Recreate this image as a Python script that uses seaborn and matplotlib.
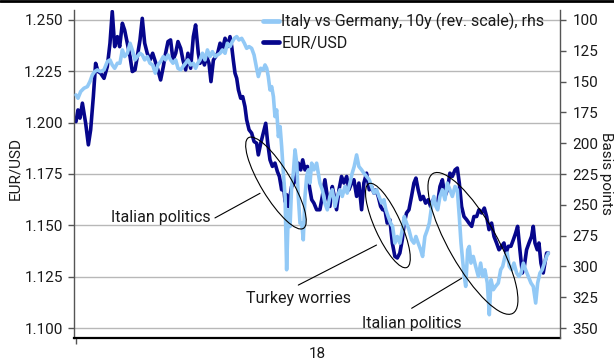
import numpy as np
import pandas as pd
import matplotlib
matplotlib.use("Agg")
import matplotlib.pyplot as plt
import matplotlib.dates as mdates
from matplotlib.patches import Ellipse
from matplotlib.lines import Line2D
from matplotlib.transforms import ScaledTranslation, blended_transform_factory
import seaborn as sns

# ---------------- data (days since 1 Jan 2018) ----------------
eur_day = [0, 1.4, 2.8, 4.5, 6.8, 8.7, 10.3, 12.2, 13.8, 15.5, 17.3, 19.7, 22.0, 23.9, 25.5, 27.2,
           29.1, 30.7, 32.6, 34.2, 36.1, 38.0, 39.6, 41.5, 43.1, 45.0, 46.6, 48.3, 50.1, 52.0, 53.9,
           55.8, 57.6, 59.5, 61.4, 63.0, 64.7, 66.5, 68.2, 70.1, 71.7, 73.6, 75.2, 77.1, 78.7, 80.6,
           82.5, 84.1,
           86.0, 87.2, 88.9, 90.3, 91.9, 93.5, 94.9, 96.6, 98.2, 99.6, 101.3, 102.9, 104.8, 106.4,
           108.3, 109.5, 110.6, 111.8, 113.0, 114.2, 115.8, 117.2, 118.8, 120.0, 121.7, 123.5, 125.2,
           127.0, 128.2, 129.9, 131.7, 133.4, 134.8, 136.4, 138.1, 139.9, 141.6, 143.0, 144.6, 145.8,
           147.0, 148.1, 149.3, 150.5, 151.6, 153.3, 154.7, 156.3, 158.0, 159.4, 161.0, 162.7, 164.1,
           165.7, 167.3, 169.2,
           171.5, 173.2, 175.0, 176.7, 178.5, 180.2, 181.6, 183.2, 184.9, 186.7, 188.4, 190.3, 191.9,
           193.8, 195.4, 197.3, 198.9, 200.8, 202.4, 204.3, 206.2, 207.8, 209.5, 210.9, 212.5, 214.2,
           215.6, 217.2, 218.8, 220.7, 222.4, 224.2, 225.9, 227.7, 229.4, 230.8, 232.4, 234.1, 235.9,
           237.6, 239.0, 240.6, 242.3, 244.1, 245.8, 247.7, 249.3, 251.2, 252.8,
           254.3, 255.9, 257.6, 259.4, 261.1, 262.9, 264.6, 266.5, 268.1, 269.5, 271.1, 272.8, 274.7,
           276.3, 278.2, 279.8, 281.7, 283.3, 285.2, 287.1, 288.7, 290.4, 292.2, 293.9, 295.7, 297.4,
           299.3, 300.9, 302.3, 304.0, 305.8, 307.5, 309.1, 310.5, 312.1, 313.8, 315.2, 316.8, 318.5,
           320.3, 321.5, 322.7, 324.3, 325.5, 326.9, 328.5, 329.7, 330.9, 332.1]
eur_val = [1.2005, 1.2062, 1.2022, 1.2095, 1.1997, 1.1892, 1.1965, 1.2127, 1.2289, 1.2249, 1.2241,
           1.2216, 1.2273, 1.2387, 1.2541, 1.2370, 1.2419, 1.2370, 1.2484, 1.2451, 1.2387, 1.2322,
           1.2249, 1.2257, 1.2322, 1.2403, 1.2508, 1.2387, 1.2338, 1.2305, 1.2338, 1.2297, 1.2257,
           1.2208, 1.2273, 1.2338, 1.2395, 1.2403, 1.2305, 1.2338, 1.2395, 1.2362, 1.2305, 1.2257,
           1.2338, 1.2265, 1.2419, 1.2476,
           1.2338, 1.2289, 1.2314, 1.2281, 1.2322, 1.2289, 1.2200, 1.2305, 1.2322, 1.2338, 1.2387,
           1.2354, 1.2411, 1.2370, 1.2419, 1.2370, 1.2305, 1.2241, 1.2216, 1.2160, 1.2119, 1.2127,
           1.2078, 1.2014, 1.1965, 1.1949, 1.1908, 1.1900, 1.1843, 1.1900, 1.1949, 1.1997, 1.1900,
           1.1819, 1.1787, 1.1803, 1.1762, 1.1738, 1.1673, 1.1706, 1.1616, 1.1649, 1.1592, 1.1641,
           1.1689, 1.1706, 1.1738, 1.1803, 1.1770, 1.1819, 1.1770, 1.1787, 1.1689, 1.1625, 1.1608,
           1.1576,
           1.1576, 1.1641, 1.1722, 1.1641, 1.1592, 1.1689, 1.1641, 1.1576, 1.1673, 1.1738, 1.1706,
           1.1738, 1.1673, 1.1706, 1.1722, 1.1641, 1.1706, 1.1576, 1.1706, 1.1754, 1.1673, 1.1689,
           1.1657, 1.1673, 1.1641, 1.1592, 1.1576, 1.1576, 1.1511, 1.1527, 1.1414, 1.1349, 1.1341,
           1.1365, 1.1430, 1.1511, 1.1560, 1.1576, 1.1641, 1.1706, 1.1730, 1.1673, 1.1625, 1.1641,
           1.1608, 1.1625, 1.1592, 1.1625, 1.1608,
           1.1608, 1.1689, 1.1722, 1.1641, 1.1673, 1.1754, 1.1738, 1.1770, 1.1779, 1.1706, 1.1592,
           1.1543, 1.1527, 1.1511, 1.1495, 1.1543, 1.1543, 1.1576, 1.1560, 1.1584, 1.1543, 1.1479,
           1.1511, 1.1446, 1.1414, 1.1381, 1.1398, 1.1414, 1.1365, 1.1398, 1.1398, 1.1430, 1.1462,
           1.1495, 1.1381, 1.1268, 1.1300, 1.1381, 1.1414, 1.1446, 1.1495, 1.1414, 1.1381, 1.1414,
           1.1316, 1.1268, 1.1316, 1.1365, 1.1365]

spread_day = [0, 1.4, 3.3, 5.6, 8.0, 9.8, 11.5, 13.1, 15.0, 17.3, 19.7, 22.0, 23.9, 25.5, 27.2, 29.1,
              30.9, 32.6, 34.2, 36.1, 38.0, 39.6, 41.5, 43.1, 45.0, 46.6, 48.3, 50.1, 52.0, 53.9,
              55.8, 57.6, 59.5, 61.4, 63.0, 64.7, 66.5, 68.2, 70.1, 71.7, 73.6, 75.2, 77.1, 78.7,
              80.6, 82.5, 84.1,
              85.6, 87.2, 88.9, 90.7, 92.4, 94.2, 95.9, 97.8, 99.4, 101.3, 102.9, 104.8, 106.4, 108.3,
              109.9, 111.3, 113.0, 114.6, 116.5, 118.4, 120.0, 121.7, 123.5, 125.2, 127.0, 128.2,
              129.9, 131.7, 132.9, 134.1, 135.2, 136.4, 137.6, 138.8, 139.9, 141.1, 142.3, 143.5,
              144.6, 145.8, 147.0, 148.1, 149.3, 150.5, 151.6, 152.8, 154.0, 155.2, 156.3, 157.5,
              158.7, 159.8, 161.0, 162.2, 163.4, 164.5, 165.7, 167.3, 169.2,
              171.5, 173.2, 175.0, 176.7, 178.5, 180.2, 182.1, 183.7, 185.6, 187.2, 189.1, 190.7,
              192.6, 194.2, 195.6, 197.3, 198.9, 200.8, 202.4, 204.3, 206.2, 207.8, 209.5, 211.3,
              213.0, 214.9, 216.5, 217.9, 219.5, 221.2, 222.6, 224.2, 225.9, 227.7, 229.4, 230.8,
              232.4, 234.1, 235.9, 237.6, 239.0, 240.6, 242.3, 243.7, 245.3, 247.0, 248.4, 250.0,
              251.6, 253.1,
              254.3, 255.9, 257.6, 259.4, 261.1, 262.9, 264.6, 266.5, 268.1, 269.5, 270.7, 271.8,
              273.0, 274.0, 275.4, 276.5, 277.7, 279.3, 281.0, 282.9, 284.5, 285.9, 287.5, 289.2,
              290.6, 291.8, 293.4, 295.0, 296.9, 298.6, 300.0, 301.6, 303.2, 304.6, 306.3, 307.9,
              309.8, 311.4, 312.9, 314.5, 316.1, 318.0, 319.9, 321.5, 323.2, 324.6, 326.2, 327.8,
              329.3, 330.9, 332.1]
spread_val = [160.8, 163.5, 158.1, 155.4, 154.1, 150.0, 144.6, 141.9, 140.5, 141.9, 140.5, 133.8,
              132.4, 136.5, 139.2, 135.1, 135.1, 124.3, 129.7, 127.0, 118.9, 124.3, 132.4, 129.7,
              127.0, 128.4, 132.4, 129.7, 135.1, 136.5, 143.2, 136.5, 133.8, 129.7, 132.4, 128.4,
              132.4, 135.1, 132.4, 139.2, 140.5, 137.8, 135.1, 132.4, 136.5, 135.1, 139.2,
              135.1, 132.4, 127.0, 132.4, 124.3, 129.7, 125.7, 129.7, 128.4, 127.0, 124.3, 127.0,
              118.9, 121.6, 117.6, 114.9, 113.5, 116.2, 114.9, 118.9, 123.0, 121.6, 123.0, 128.4,
              139.2, 145.9, 139.2, 140.5, 136.5, 139.2, 145.9, 156.8, 154.1, 162.2, 178.4, 173.0,
              194.6, 186.5, 202.7, 224.3, 243.2, 302.7, 254.1, 267.6, 235.1, 224.3, 205.4, 216.2,
              243.2, 264.9, 264.9, 278.4, 243.2, 227.0, 221.6, 232.4, 216.2, 221.6, 216.2,
              232.4, 237.8, 248.6, 254.1, 243.2, 237.8, 251.4, 243.2, 237.8, 243.2, 235.1, 240.5,
              232.4, 224.3, 218.9, 209.5, 218.9, 221.6, 224.3, 227.0, 229.7, 235.1, 240.5, 237.8,
              243.2, 248.6, 245.9, 254.1, 259.5, 264.9, 267.6, 281.1, 275.7, 281.1, 270.3, 259.5,
              264.9, 270.3, 278.4, 281.1, 275.7, 281.1, 286.5, 291.9, 275.7, 270.3, 264.9, 251.4,
              243.2, 251.4,
              254.1, 243.2, 237.8, 245.9, 232.4, 237.8, 243.2, 235.1, 237.8, 259.5, 281.1, 294.6,
              308.1, 316.2, 286.5, 283.8, 297.3, 291.9, 300.0, 308.1, 297.3, 308.1, 302.7, 313.5,
              339.2, 310.8, 318.9, 316.2, 313.5, 302.7, 300.0, 291.9, 289.2, 300.0, 302.7, 297.3,
              305.4, 308.1, 305.4, 297.3, 302.7, 308.1, 313.5, 316.2, 329.7, 313.5, 305.4, 302.7,
              297.3, 291.9, 289.2]

eur_ticks = [1.100, 1.125, 1.150, 1.175, 1.200, 1.225, 1.250]
bp_ticks = [100, 125, 150, 175, 200, 225, 250, 275, 300, 325, 350]
year_label = "18"
legend_labels = ["Italy vs Germany, 10y (rev. scale), rhs", "EUR/USD"]
notes = ["Italian politics", "Turkey worries", "Italian politics"]

# ---------------- style ----------------
sns.set_style("ticks")
plt.rcParams["font.family"] = ["Roboto", "DejaVu Sans"]
LIGHT = "#92c9f6"
DARK = "#06068c"
TXT = "#1a1a1a"
FS = 11
FS2 = 11.5

start = pd.Timestamp("2018-01-01")
df_eur = pd.DataFrame({"date": start + pd.to_timedelta(eur_day, unit="D"), "eurusd": eur_val})
df_spr = pd.DataFrame({"date": start + pd.to_timedelta(spread_day, unit="D"), "spread": spread_val})

fig = plt.figure(figsize=(6.14, 3.61), dpi=100)
ax = fig.add_axes([74 / 614, 23 / 361, 486 / 614, 328 / 361])
ax2 = ax.twinx()

sns.lineplot(data=df_eur, x="date", y="eurusd", ax=ax, color=DARK, linewidth=2.6,
             estimator=None, legend=False)
sns.lineplot(data=df_spr, x="date", y="spread", ax=ax2, color=LIGHT, linewidth=2.6,
             estimator=None, legend=False)

# axes limits
ax.set_xlim(start - pd.Timedelta(days=1.4), start + pd.Timedelta(days=340.3))
ax.set_ylim(1.09513, 1.25487)
ax2.set_ylim(358.1, 91.9)

ax.set_yticks(eur_ticks)
ax.set_yticklabels([f"{v:.3f}" for v in eur_ticks])
ax2.set_yticks(bp_ticks)
ax2.set_yticklabels([str(v) for v in bp_ticks])
ax.set_xticks([start])
ax.set_xticklabels([""])

ax.yaxis.grid(True, color="#b8b8b8", linewidth=1)
ax.xaxis.grid(False)
ax2.grid(False)

for a in (ax, ax2):
    a.spines["top"].set_visible(False)
ax.spines["right"].set_visible(False)
ax2.spines["left"].set_visible(False)
ax2.spines["bottom"].set_visible(False)
ax.spines["left"].set_color("#555555")
ax.spines["left"].set_linewidth(1.0)
ax2.spines["right"].set_color("#555555")
ax2.spines["right"].set_linewidth(1.0)
ax.spines["bottom"].set_color("black")
ax.spines["bottom"].set_linewidth(1.6)

ax.tick_params(axis="y", length=4, width=1, color="#555555", labelsize=FS, labelcolor=TXT, pad=4)
ax2.tick_params(axis="y", length=4, width=1, color="#555555", labelsize=FS, labelcolor=TXT, pad=5)
ax.tick_params(axis="x", length=4, width=1, color="#555555")

ax.set_xlabel("")
ax.set_ylabel("EUR/USD", fontsize=FS, color=TXT, rotation=90, ha="center", va="center")
ax.yaxis.set_label_coords((15 - 74) / 486, 0.518)
ax2.set_ylabel("Basis points", fontsize=FS, color=TXT, rotation=270, ha="center", va="center")
ax2.yaxis.set_label_coords((606 - 74) / 486, 0.503)

# year label under the axis
xt = blended_transform_factory(ax.transData, ax.transAxes)
ax.text(mdates.date2num(start + pd.Timedelta(days=170)), -0.049, year_label, transform=xt,
        ha="center", va="center", fontsize=FS, color=TXT)

# legend
handles = [Line2D([], [], color=LIGHT, lw=3.4), Line2D([], [], color=DARK, lw=3.4)]
ax2.legend(handles, legend_labels, loc="upper left", bbox_to_anchor=(0.389, 0.991),
           frameon=False, fontsize=FS2, handlelength=1.0, handletextpad=0.15,
           labelspacing=0.35, borderpad=0, borderaxespad=0, labelcolor=TXT)


def dnum(day):
    return mdates.date2num(start + pd.Timedelta(days=day))


def ellipse(day, val, w_px, h_px, angle):
    tr = fig.dpi_scale_trans + ScaledTranslation(dnum(day), val, ax.transData)
    fig.add_artist(Ellipse((0, 0), w_px / 100, h_px / 100, angle=angle, fill=False,
                           edgecolor="black", linewidth=0.8, transform=tr, zorder=5))


def connector(d0, v0, d1, v1):
    fig.add_artist(Line2D([dnum(d0), dnum(d1)], [v0, v1], color="black", linewidth=0.8,
                          transform=ax.transData, zorder=5))


ellipse(140.6, 1.1706, 106, 30, -58.8)
ellipse(219.3, 1.1499, 92, 26, -65.6)
ellipse(279.1, 1.1412, 161, 48, -60.3)

connector(97.7, 1.1536, 129.4, 1.1656)
connector(156.3, 1.1209, 211.3, 1.1404)
connector(236.0, 1.1096, 271.1, 1.1242)

ax2.text(dnum(24.6), 1.1536, notes[0], transform=ax.transData, ha="left", va="center",
         fontsize=FS2, color=TXT)
ax2.text(dnum(119.5), 1.1146, notes[1], transform=ax.transData, ha="left", va="center",
         fontsize=FS2, color=TXT)
ax2.text(dnum(200.8), 1.1023, notes[2], transform=ax.transData, ha="left", va="center",
         fontsize=FS2, color=TXT)

# top rule
fig.add_artist(Line2D([0, 1], [1 - 1.4 / 361] * 2, transform=fig.transFigure, color="black",
                      linewidth=2.0))

fig.savefig("out.png", dpi=100)
